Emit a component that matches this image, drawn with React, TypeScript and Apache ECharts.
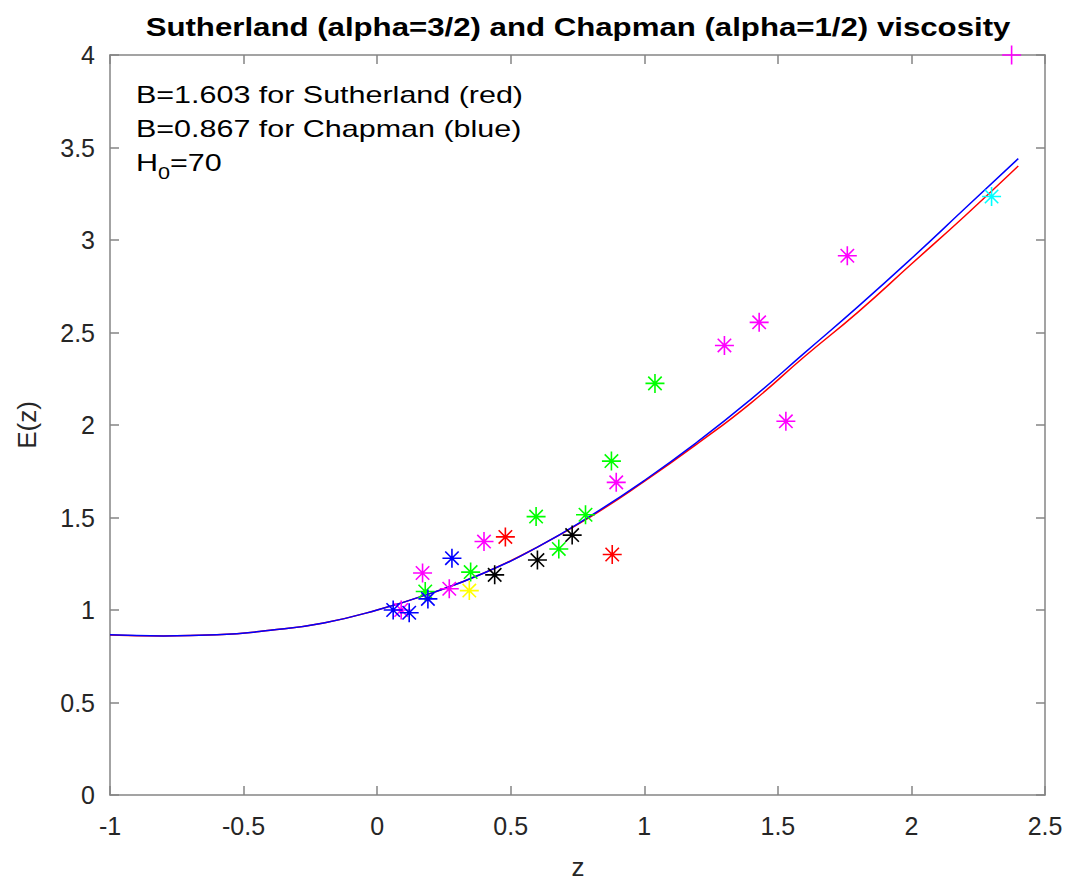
import React, { useEffect, useRef } from "react";
import * as echarts from "echarts";

const zCurve = [-1, -0.8, -0.6, -0.4, -0.2, 0, 0.2, 0.4, 0.6, 0.8, 1.0, 1.2, 1.4, 1.6, 1.8, 2.0, 2.2, 2.4];
const sutherland = [0.865, 0.86, 0.866, 0.89, 0.93, 1.0, 1.09, 1.2, 1.34, 1.505, 1.695, 1.9, 2.12, 2.37, 2.61, 2.87, 3.13, 3.40];
const chapman = [0.866, 0.86, 0.866, 0.89, 0.93, 1.0, 1.09, 1.2, 1.34, 1.51, 1.70, 1.91, 2.14, 2.39, 2.64, 2.9, 3.17, 3.44];

const bluePts = [[0.06, 1.0], [0.12, 0.985], [0.19, 1.06], [0.28, 1.28]];
const magentaPts = [[0.09, 1.0], [0.17, 1.2], [0.27, 1.115], [0.40, 1.37], [0.895, 1.69], [1.30, 2.43], [1.43, 2.555], [1.53, 2.02], [1.76, 2.915]];
const greenPts = [[0.18, 1.1], [0.35, 1.205], [0.595, 1.505], [0.68, 1.33], [0.78, 1.515], [0.877, 1.805], [1.04, 2.225]];
const redPts = [[0.48, 1.395], [0.88, 1.30]];
const blackPts = [[0.44, 1.19], [0.60, 1.27], [0.73, 1.405]];
const yellowPts = [[0.345, 1.105]];
const cyanPts = [[2.30, 3.235]];
const plusPts = [[2.375, 4.0]];

const xTicks = [-1, -0.5, 0, 0.5, 1, 1.5, 2, 2.5];
const yTicks = [0, 0.5, 1, 1.5, 2, 2.5, 3, 3.5, 4];

const titleText = "Sutherland (alpha=3/2) and Chapman (alpha=1/2) viscosity";
const noteLines = ["B=1.603 for Sutherland (red)", "B=0.867 for Chapman (blue)"];

const ASTERISK = "path://M0,-10L0,10M-10,0L10,0M-7.07,-7.07L7.07,7.07M-7.07,7.07L7.07,-7.07";
const PLUS = "path://M0,-10L0,10M-10,0L10,0";
const FONT = "Liberation Sans";
const AXC = "#858585";
const TXT = "#262626";

function starSeries(data: number[][], color: string, symbol = ASTERISK, clip = true) {
  return {
    type: "scatter",
    data,
    symbol,
    symbolSize: 19,
    clip,
    z: 5,
    itemStyle: { color: "none", borderColor: color, borderWidth: 1.6, opacity: 1 },
  };
}

export default function App() {
  const ref = useRef<HTMLDivElement>(null);
  useEffect(() => {
    document.body.style.margin = "0";
    const chart = echarts.init(ref.current!, null, { renderer: "svg" });
    const lineData = (ys: number[]) => zCurve.map((z, i) => [z, ys[i]]);
    const axisCommon = {
      type: "value",
      axisLine: { show: true, onZero: false, lineStyle: { color: AXC, width: 1.5 } },
      axisTick: { show: true, inside: true, length: 9, lineStyle: { color: AXC, width: 1.5 } },
      splitLine: { show: false },
    };
    const labelStyle = { color: TXT, fontSize: 25, fontFamily: FONT };
    chart.setOption({
      animation: false,
      backgroundColor: "#ffffff",
      grid: { left: 110, right: 28, top: 55, bottom: 88, containLabel: false },
      xAxis: [
        {
          ...axisCommon,
          min: -1,
          max: 2.5,
          interval: 0.5,
          position: "bottom",
          axisLabel: { ...labelStyle, margin: 18, formatter: (v: number) => (xTicks.includes(v) ? String(v) : "") },
        },
        {
          ...axisCommon,
          min: -1,
          max: 2.5,
          interval: 0.5,
          position: "top",
          axisLabel: { show: false },
        },
      ],
      yAxis: [
        {
          ...axisCommon,
          min: 0,
          max: 4,
          interval: 0.5,
          position: "left",
          axisLabel: { ...labelStyle, margin: 15, formatter: (v: number) => (yTicks.includes(v) ? String(v) : "") },
        },
        {
          ...axisCommon,
          min: 0,
          max: 4,
          interval: 0.5,
          position: "right",
          axisLabel: { show: false },
        },
      ],
      graphic: [
        {
          type: "text",
          x: 578,
          y: 27,
          scaleX: 1.2,
          style: {
            text: titleText,
            fill: "#000",
            fontSize: 26,
            fontWeight: "bold",
            fontFamily: FONT,
            textAlign: "center",
            textVerticalAlign: "middle",
          },
        },
        {
          type: "text",
          x: 578,
          y: 867,
          style: { text: "z", fill: TXT, fontSize: 26, fontFamily: FONT, textAlign: "center", textVerticalAlign: "middle" },
        },
        {
          type: "text",
          x: 27,
          y: 425,
          rotation: Math.PI / 2,
          style: { text: "E(z)", fill: TXT, fontSize: 26, fontFamily: FONT, textAlign: "center", textVerticalAlign: "middle" },
        },
        {
          type: "text",
          x: 136,
          y: 95,
          scaleX: 1.27,
          style: { text: noteLines[0], fill: "#000", fontSize: 24, fontFamily: FONT, textAlign: "left", textVerticalAlign: "middle" },
        },
        {
          type: "text",
          x: 136,
          y: 129,
          scaleX: 1.27,
          style: { text: noteLines[1], fill: "#000", fontSize: 24, fontFamily: FONT, textAlign: "left", textVerticalAlign: "middle" },
        },
        {
          type: "text",
          x: 136,
          y: 163,
          scaleX: 1.27,
          style: {
            text: "{a|H}{s|0}{a|=70}",
            fill: "#000",
            textAlign: "left",
            textVerticalAlign: "middle",
            rich: {
              a: { fontSize: 24, fontFamily: FONT, fill: "#000", color: "#000" },
              s: { fontSize: 17, fontFamily: FONT, fill: "#000", color: "#000", padding: [20, 0, 0, 0] },
            },
          },
        },
      ],
      series: [
        {
          type: "line",
          data: lineData(sutherland),
          smooth: true,
          showSymbol: false,
          lineStyle: { color: "#ff0000", width: 1.5 },
          z: 3,
        },
        {
          type: "line",
          data: lineData(chapman),
          smooth: true,
          showSymbol: false,
          lineStyle: { color: "#0000ff", width: 1.5 },
          z: 4,
        },
        starSeries(redPts, "#ff0000"),
        starSeries(blackPts, "#000000"),
        starSeries(yellowPts, "#ffff00"),
        starSeries(greenPts, "#00ff00"),
        starSeries(magentaPts, "#ff00ff"),
        starSeries(bluePts, "#0000ff"),
        starSeries(cyanPts, "#00ffff"),
        starSeries(plusPts, "#ff00ff", PLUS, false),
      ],
    });
    return () => chart.dispose();
  }, []);
  return <div ref={ref} style={{ width: 1073, height: 883 }} />;
}
